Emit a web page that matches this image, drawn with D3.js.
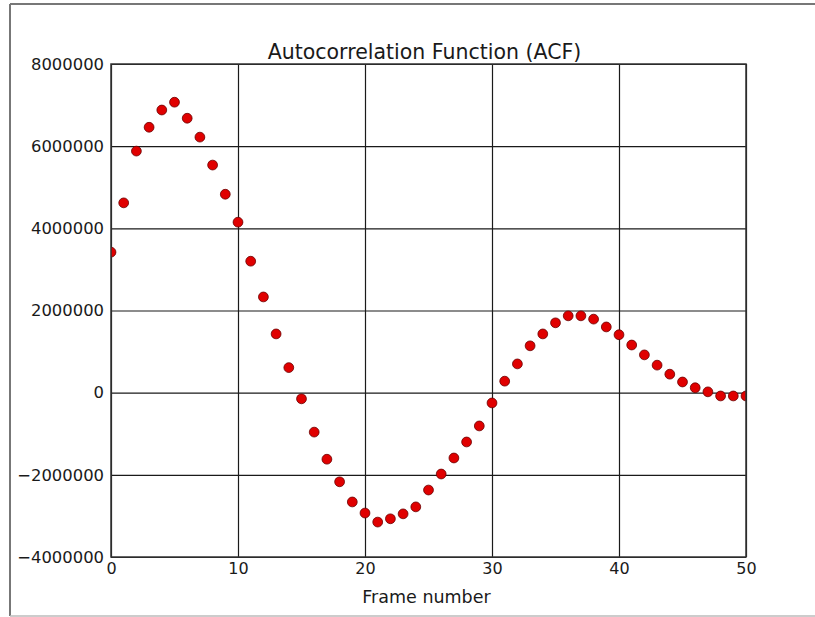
<!DOCTYPE html>
<html>
<head>
<meta charset="utf-8">
<script src="https://cdn.jsdelivr.net/npm/d3@7"></script>
<style>
  body { margin: 0; background: #fff; }
  svg text { font-family: "DejaVu Sans", sans-serif; fill: #1a1a1a; }
</style>
</head>
<body>
<div id="chart"></div>
<script>
// frame numbers and ACF values
var frames = d3.range(0, 51);
var acfValues = [
  3420000, 4620000, 5880000, 6460000, 6880000, 7070000, 6680000, 6220000, 5540000, 4830000,
  4150000, 3200000, 2330000, 1430000, 610000, -150000, -960000, -1620000, -2170000, -2660000,
  -2930000, -3150000, -3070000, -2950000, -2780000, -2370000, -1980000, -1590000, -1200000, -810000,
  -250000, 280000, 700000, 1140000, 1430000, 1700000, 1870000, 1870000, 1790000, 1600000,
  1410000, 1160000, 920000, 670000, 450000, 260000, 120000, 20000, -80000, -80000,
  -80000
];
var xTicks = [0, 10, 20, 30, 40, 50];
var yTicks = [-4000000, -2000000, 0, 2000000, 4000000, 6000000, 8000000];

var svgWidth = 815;
var svgHeight = 617;

var margin = { top: 64, right: 69, bottom: 60, left: 111 };
var width = svgWidth - margin.left - margin.right;
var height = svgHeight - margin.top - margin.bottom;

var svg = d3.select('#chart').append('svg')
  .attr('width', svgWidth)
  .attr('height', svgHeight);

// outer picture frame
svg.append('line').attr('x1', 10).attr('y1', 4).attr('x2', svgWidth).attr('y2', 4)
  .attr('stroke', '#777').attr('stroke-width', 2);
svg.append('line').attr('x1', 10).attr('y1', 4).attr('x2', 10).attr('y2', 616)
  .attr('stroke', '#777').attr('stroke-width', 2);
svg.append('line').attr('x1', 10).attr('y1', 616).attr('x2', svgWidth).attr('y2', 616)
  .attr('stroke', '#bbb').attr('stroke-width', 1.5);

var chartGroup = svg.append('g')
  .attr('transform', `translate(${margin.left}, ${margin.top})`);

var xScale = d3.scaleLinear().domain([0, 50]).range([0, width]);
var yScale = d3.scaleLinear().domain([-4000000, 8000000]).range([height, 0]);

// grid
chartGroup.append('g')
  .attr('transform', `translate(0, ${height})`)
  .call(d3.axisBottom(xScale).tickValues(xTicks).tickSize(-height).tickFormat(''))
  .call(g => g.select('.domain').remove())
  .selectAll('line').attr('stroke', '#1a1a1a').attr('stroke-width', 1.2);

chartGroup.append('g')
  .call(d3.axisLeft(yScale).tickValues(yTicks).tickSize(-width).tickFormat(''))
  .call(g => g.select('.domain').remove())
  .selectAll('line').attr('stroke', '#1a1a1a').attr('stroke-width', 1.2);

// tick labels
var xAxis = chartGroup.append('g')
  .attr('transform', `translate(0, ${height})`)
  .call(d3.axisBottom(xScale).tickValues(xTicks).tickSize(0).tickPadding(6).tickFormat(d3.format('d')));
xAxis.select('.domain').remove();
xAxis.selectAll('text').attr('font-size', '16px').attr('fill', '#1a1a1a');

var yAxis = chartGroup.append('g')
  .call(d3.axisLeft(yScale).tickValues(yTicks).tickSize(0).tickPadding(7).tickFormat(d => d < 0 ? '\u2212' + Math.abs(d) : String(d)));
yAxis.select('.domain').remove();
yAxis.selectAll('text').attr('font-size', '16.4px').attr('fill', '#1a1a1a');

// clip points to the axes box
chartGroup.append('clipPath').attr('id', 'plotClip')
  .append('rect').attr('width', width).attr('height', height);

chartGroup.append('g')
  .attr('clip-path', 'url(#plotClip)')
  .selectAll('circle')
  .data(frames)
  .enter()
  .append('circle')
  .attr('cx', d => xScale(d))
  .attr('cy', (d, i) => yScale(acfValues[i]))
  .attr('r', 4.9)
  .attr('fill', '#e00000')
  .attr('stroke', '#6a0000')
  .attr('stroke-width', 0.8);

// axes box
chartGroup.append('rect')
  .attr('width', width).attr('height', height)
  .attr('fill', 'none').attr('stroke', '#333').attr('stroke-width', 1.5);

// title and label
chartGroup.append('text')
  .attr('x', width / 2 - 4).attr('y', -5)
  .attr('text-anchor', 'middle')
  .attr('font-size', '20.5px')
  .text('Autocorrelation Function (ACF)');

chartGroup.append('text')
  .attr('x', width / 2 - 2).attr('y', height + 46)
  .attr('text-anchor', 'middle')
  .attr('font-size', '17.5px')
  .text('Frame number');
</script>
</body>
</html>
